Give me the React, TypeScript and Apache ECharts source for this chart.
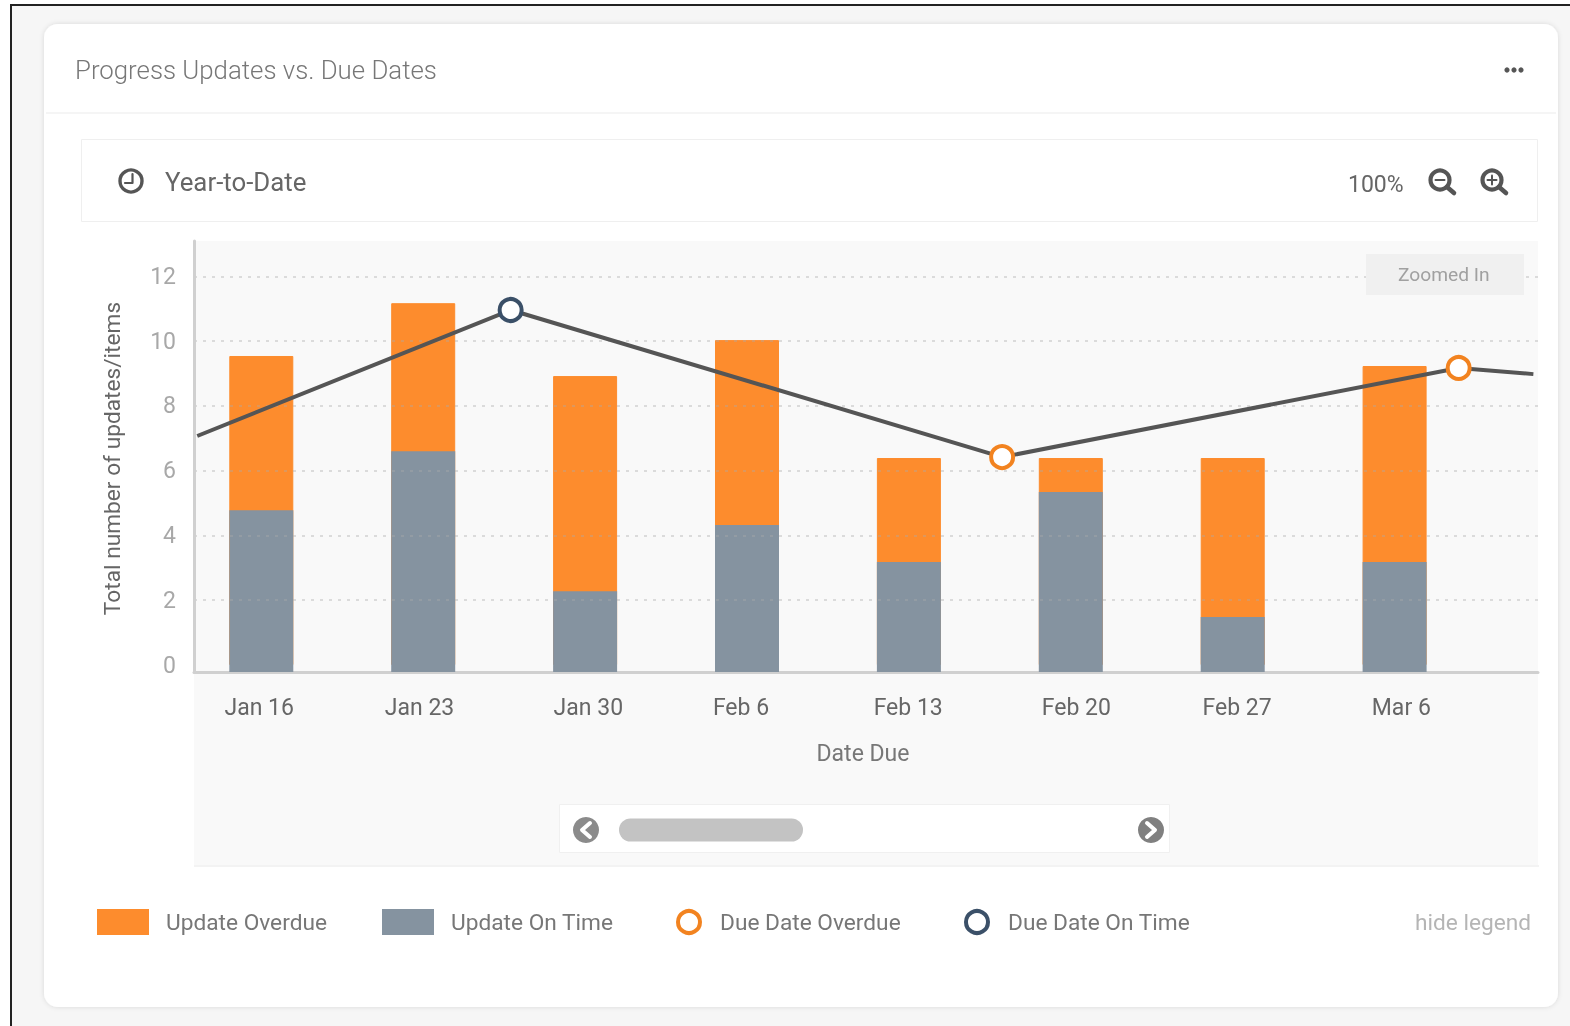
import React, { useEffect, useRef } from "react";
import * as echarts from "echarts";

const categories = ["Jan 16", "Jan 23", "Jan 30", "Feb 6", "Feb 13", "Feb 20", "Feb 27", "Mar 6"];
const barDays = [0, 7, 14, 21, 28, 35, 42, 49];
const labelDays = [-0.09, 6.84, 14.14, 20.74, 27.97, 35.24, 42.19, 49.29];
const updateOnTime = [4.78, 6.6, 2.28, 4.32, 3.18, 5.34, 1.48, 3.18];
const updateOverdue = [4.76, 4.57, 6.64, 5.71, 3.21, 1.05, 4.91, 6.05];
const lineDays = [-2.77, 10.78, 32.03, 51.77, 55.0];
const lineValues = [7.07, 10.96, 6.42, 9.17, 8.98];
const dueOverdueDays = [32.03, 51.77];
const dueOverdueValues = [6.42, 9.17];
const dueOnTimeDays = [10.78];
const dueOnTimeValues = [10.96];
const yLabels = [0, 2, 4, 6, 8, 10, 12];
const yGridLines = [2, 4, 6, 8, 10, 12];
const Y_MIN = -0.216;
const Y_MAX = 13.09;
const X_MIN = -2.91;
const X_MAX = 55.2;

const ORANGE = "#fd8c2d";
const SLATE = "#8593a0";
const ICON = "#555555";
const FONT = "Roboto";

const bg = (shape: any, style: any, z = -20) => ({ type: "rect", shape, style, z, silent: true });
const txt = (x: number, y: number, text: string, fontSize: number, fill: string, extra: any = {}) => ({
  type: "text",
  x,
  y,
  z: 20,
  silent: true,
  style: { text, fontSize, fill, fontFamily: FONT, verticalAlign: "middle", ...extra },
});
const stroke = (w: number, color = ICON) => ({ stroke: color, lineWidth: w, fill: "none", lineCap: "round", lineJoin: "round" });

function magnifier(cx: number, cy: number, plus: boolean) {
  const els: any[] = [
    { type: "circle", z: 20, shape: { cx, cy, r: 9.5 }, style: stroke(4.2) },
    { type: "line", z: 20, shape: { x1: cx + 7, y1: cy + 7, x2: cx + 14, y2: cy + 13 }, style: stroke(4.6) },
    { type: "line", z: 20, shape: { x1: cx - 4.5, y1: cy, x2: cx + 4.5, y2: cy }, style: stroke(2) },
  ];
  if (plus) els.push({ type: "line", z: 20, shape: { x1: cx, y1: cy - 4.5, x2: cx, y2: cy + 4.5 }, style: stroke(2) });
  return els;
}

function chevronButton(cx: number, cy: number, dir: number, color: string) {
  return [
    { type: "circle", z: 20, shape: { cx, cy, r: 13 }, style: { fill: color } },
    {
      type: "polyline",
      z: 21,
      shape: { points: [[cx + dir * 4, cy - 7], [cx - dir * 4, cy], [cx + dir * 4, cy + 7]] },
      style: stroke(4, "#ffffff"),
    },
  ];
}

const graphicElements: any[] = [
  bg({ x: 0, y: 0, width: 1570, height: 1026 }, { fill: "#ffffff" }, -30),
  bg({ x: 11, y: 4, width: 1559, height: 1022 }, { fill: "#f6f6f6" }, -29),
  bg({ x: 10, y: 4, width: 2, height: 1022 }, { fill: "#222222" }, -28),
  bg({ x: 10, y: 4, width: 1560, height: 2 }, { fill: "#222222" }, -28),
  bg({ x: 44, y: 24, width: 1514, height: 983, r: 14 }, { fill: "#ffffff", shadowBlur: 5, shadowColor: "rgba(0,0,0,0.12)" }, -27),
  bg({ x: 46, y: 112, width: 1510, height: 2 }, { fill: "#f5f5f5" }, -26),
  bg({ x: 81.5, y: 139.5, width: 1456, height: 82 }, { fill: "#ffffff", stroke: "#efefef", lineWidth: 1 }, -26),
  bg({ x: 194, y: 241, width: 1344, height: 626 }, { fill: "#f9f9f9" }, -26),
  bg({ x: 194, y: 865, width: 1345, height: 2 }, { fill: "#f3f3f3" }, -25),
  bg({ x: 559.5, y: 804.5, width: 610, height: 48 }, { fill: "#ffffff", stroke: "#f0f0f0", lineWidth: 1 }, -25),
  bg({ x: 619, y: 818.5, width: 184, height: 23, r: 11.5 }, { fill: "#c3c3c3" }, -24),
  bg({ x: 1366, y: 254, width: 158, height: 41 }, { fill: "#f0f0f0" }, 5),

  txt(75, 69.5, "Progress Updates vs. Due Dates", 25.8, "#777777", { fontWeight: 300 }),
  txt(165, 182, "Year-to-Date", 25.8, "#666666"),
  txt(1348, 184, "100%", 23, "#666666"),
  txt(1398, 274, "Zoomed In", 19.2, "#a0a0a0"),
  txt(1415, 922, "hide legend", 22.7, "#b5b5b5"),

  { type: "circle", z: 20, shape: { cx: 1507, cy: 70, r: 2.6 }, style: { fill: ICON } },
  { type: "circle", z: 20, shape: { cx: 1514, cy: 70, r: 2.6 }, style: { fill: ICON } },
  { type: "circle", z: 20, shape: { cx: 1521, cy: 70, r: 2.6 }, style: { fill: ICON } },

  { type: "circle", z: 20, shape: { cx: 131, cy: 181, r: 11 }, style: stroke(3.4) },
  { type: "polyline", z: 20, shape: { points: [[132.5, 174], [132.5, 183], [125, 183]] }, style: stroke(2.2) },

  ...magnifier(1440, 180, false),
  ...magnifier(1492, 180, true),
  ...chevronButton(586, 830, 1, "#8b8b8b"),
  ...chevronButton(1151, 830, -1, "#808080"),
];

const legendBase = {
  orient: "horizontal",
  selectedMode: false,
  top: 909,
  padding: 0,
  itemHeight: 26,
  textStyle: { fontFamily: FONT, fontSize: 22.7, color: "#777777", padding: [0, 0, 0, 12] },
};
const ringLegendBase = {
  ...legendBase,
  itemWidth: 22,
  itemHeight: 22,
  textStyle: { ...legendBase.textStyle, padding: [0, 0, 0, 15] },
};

const ringStyle = (color: string) => ({ color: "#ffffff", borderColor: color, borderWidth: 4, opacity: 1 });
const OVERDUE_RING = "#f28320";
const ONTIME_RING = "#3b5068";
const barStyle = (color: string, w: number) => ({ color, borderColor: color, borderWidth: w });

export default function App() {
  const ref = useRef<HTMLDivElement>(null);
  useEffect(() => {
    const chart = echarts.init(ref.current!, undefined, { renderer: "svg" });
    chart.setOption({
      animation: false,
      backgroundColor: "transparent",
      graphic: { elements: graphicElements },
      grid: { left: 194, top: 241, width: 1344, height: 431 },
      legend: [
        { ...legendBase, left: 97, itemWidth: 52, data: [{ name: "Update Overdue", icon: "rect", itemStyle: { color: ORANGE, borderWidth: 0 } }] },
        { ...legendBase, left: 382, itemWidth: 52, data: [{ name: "Update On Time", icon: "rect", itemStyle: { color: SLATE, borderWidth: 0 } }] },
        { ...ringLegendBase, left: 676, data: [{ name: "Due Date Overdue", icon: "circle", itemStyle: ringStyle(OVERDUE_RING) }] },
        { ...ringLegendBase, left: 964, data: [{ name: "Due Date On Time", icon: "circle", itemStyle: ringStyle(ONTIME_RING) }] },
      ],
      xAxis: {
        type: "value",
        min: X_MIN,
        max: X_MAX,
        name: "Date Due",
        nameLocation: "middle",
        nameGap: 70,
        nameTextStyle: { fontFamily: FONT, fontSize: 23, color: "#777777", padding: [0, 6, 0, 0] },
        axisLine: { show: true, onZero: false, lineStyle: { color: "#d0d0d0", width: 3 } },
        axisTick: { show: false },
        splitLine: { show: false },
        axisLabel: {
          customValues: labelDays,
          margin: 24,
          fontFamily: FONT,
          fontSize: 23,
          color: "#666666",
          formatter: (v: number) => categories[labelDays.indexOf(v)] ?? "",
        },
      },
      yAxis: {
        type: "value",
        min: Y_MIN,
        max: Y_MAX,
        z: 3,
        name: "Total number of updates/items",
        nameLocation: "middle",
        nameGap: 70,
        nameTextStyle: { fontFamily: FONT, fontSize: 22.7, color: "#666666", padding: [0, 4, 0, 0] },
        axisLine: { show: true, onZero: false, lineStyle: { color: "#d0d0d0", width: 3 } },
        axisTick: { show: false, customValues: yGridLines },
        splitLine: { show: true, lineStyle: { color: "rgba(170,170,170,0.38)", width: 2, type: [3, 6] } },
        axisLabel: { customValues: yLabels, margin: 18, fontFamily: FONT, fontSize: 23, color: "#a8a8a8" },
      },
      series: [
        {
          name: "Update Overdue",
          type: "bar",
          barWidth: 64,
          barGap: "-100%",
          itemStyle: barStyle(ORANGE, 1),
          data: barDays.map((d, i) => [d, updateOnTime[i] + updateOverdue[i]]),
        },
        {
          name: "Update On Time",
          type: "bar",
          barWidth: 64,
          barGap: "-100%",
          itemStyle: barStyle(SLATE, 1.6),
          data: barDays.map((d, i) => [d, updateOnTime[i]]),
        },
        {
          name: "Axis foot",
          type: "bar",
          barWidth: 64,
          barGap: "-100%",
          itemStyle: barStyle(SLATE, 1.6),
          data: barDays.map((d) => [d, Y_MIN]),
        },
        {
          name: "Due Date",
          type: "line",
          z: 4,
          symbol: "none",
          lineStyle: { color: "#555555", width: 4 },
          data: lineDays.map((d, i) => [d, lineValues[i]]),
        },
        {
          name: "Due Date Overdue",
          type: "scatter",
          z: 5,
          symbol: "circle",
          symbolSize: 22,
          itemStyle: ringStyle(OVERDUE_RING),
          data: dueOverdueDays.map((d, i) => [d, dueOverdueValues[i]]),
        },
        {
          name: "Due Date On Time",
          type: "scatter",
          z: 5,
          symbol: "circle",
          symbolSize: 22,
          itemStyle: ringStyle(ONTIME_RING),
          data: dueOnTimeDays.map((d, i) => [d, dueOnTimeValues[i]]),
        },
      ],
    });
    return () => chart.dispose();
  }, []);
  return <div ref={ref} style={{ position: "fixed", left: 0, top: 0, width: 1570, height: 1026 }} />;
}
